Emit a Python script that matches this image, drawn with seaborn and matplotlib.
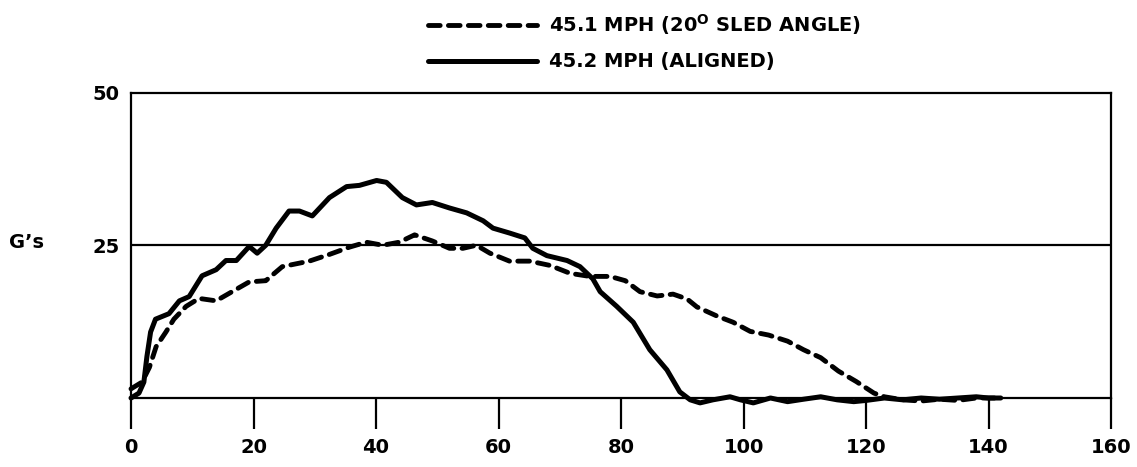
import matplotlib
matplotlib.use("Agg")
import matplotlib.pyplot as plt
import seaborn as sns
import pandas as pd

# Sled test acceleration traces: time (ms) vs. acceleration (G's)
angled_label = "45.1 MPH (20$^{\\mathregular{O}}$ SLED ANGLE)"
aligned_label = "45.2 MPH (ALIGNED)"

angled_time = [0, 1.8, 3, 4.1, 5.7, 7, 9, 11.1, 13.9, 16.5, 19.3, 22, 24.7, 29.1,
               32.4, 35.7, 38.4, 41.1, 43.8, 46.3, 49.2, 52, 54.2, 56.4, 58.6, 61.8,
               65.1, 68.4, 71.7, 74.9, 78.2, 80.7, 83.1, 85.9, 88.5, 90.8, 92.4, 95.7,
               98.3, 101.1, 104.1, 107.2, 109.8, 112.6, 115.5, 118.4, 121.3, 123, 126,
               129, 132, 135, 138, 141]
angled_g = [1.5, 2.6, 5, 8.4, 10.8, 12.9, 15, 16.3, 15.9, 17.4, 19, 19.2, 21.5, 22.4,
            23.5, 24.7, 25.5, 25, 25.5, 26.7, 25.7, 24.5, 24.5, 25, 23.7, 22.4,
            22.4, 21.7, 20.4, 19.9, 19.9, 19.2, 17.4, 16.7, 17, 16.2, 14.9, 13.4,
            12.4, 10.9, 10.3, 9.3, 7.9, 6.6, 4.4, 2.7, 0.8, 0.2, -0.3,
            -0.5, -0.2, -0.4, 0, 0]

aligned_time = [0, 1.3, 2.1, 2.6, 3.2, 4, 6.2, 7.9, 9.5, 11.6, 13.9, 15.5, 17.2, 19.3,
                20.6, 22, 23.7, 25.8, 27.5, 29.6, 32.4, 35.2, 37.3, 40.1, 41.7, 44.3,
                46.6, 49.2, 52, 54.8, 57.5, 59.1, 61.8, 64.3, 65.6, 67.9, 71.2, 73.3,
                75.4, 76.6, 79.3, 82, 84.7, 87.5, 89.6, 91.3, 92.9, 95, 97.8, 99.5,
                101.6, 104.4, 107.2, 109.8, 112.6, 115.3, 118, 120, 123, 126, 129,
                132, 135, 138, 140, 142]
aligned_g = [0, 0.8, 2.6, 6.8, 10.8, 12.9, 13.8, 15.9, 16.6, 20, 21, 22.5, 22.5, 24.8,
             23.7, 25, 27.8, 30.6, 30.6, 29.8, 32.8, 34.6, 34.8, 35.6, 35.3, 32.8,
             31.6, 32, 31.1, 30.3, 29, 27.8, 27, 26.2, 24.5, 23.3, 22.5, 21.5,
             19.5, 17.4, 15, 12.4, 7.9, 4.6, 1, -0.3, -0.8, -0.3, 0.2, -0.3,
             -0.8, 0, -0.6, -0.2, 0.2, -0.3, -0.6, -0.4, 0, -0.3, 0,
             -0.2, 0, 0.2, 0, 0]

x_ticks = [0, 20, 40, 60, 80, 100, 120, 140, 160]
y_ticks = [25, 50]
y_axis_label = "G\u2019s"

sns.set_style("white")
plt.rcParams["font.family"] = ["DejaVu Sans"]
plt.rcParams["font.weight"] = "bold"
plt.rcParams["text.color"] = "black"
plt.rcParams["axes.labelcolor"] = "black"
plt.rcParams["xtick.color"] = "black"
plt.rcParams["ytick.color"] = "black"
plt.rcParams["lines.solid_joinstyle"] = "round"
plt.rcParams["lines.dash_joinstyle"] = "round"
plt.rcParams["lines.dash_capstyle"] = "round"

W, H = 1137, 467
fig = plt.figure(figsize=(W / 100, H / 100), dpi=100)
ax = fig.add_axes([131 / W, 1 - 398 / H, (1111 - 131) / W, (398 - 92.5) / H])

df_angled = pd.DataFrame({"t": angled_time, "g": angled_g})
df_aligned = pd.DataFrame({"t": aligned_time, "g": aligned_g})

sns.lineplot(data=df_angled, x="t", y="g", ax=ax, color="black", lw=3.5,
             linestyle=(0, (2.4, 1.7)), label=angled_label, clip_on=False)
sns.lineplot(data=df_aligned, x="t", y="g", ax=ax, color="black", lw=3.6,
             label=aligned_label, clip_on=False)

ax.axhline(25, color="black", lw=1.6, zorder=1)

ax.set_xlim(0, 160)
ax.set_ylim(0, 50)
ax.set_xticks(x_ticks)
ax.set_xticklabels([str(v) for v in x_ticks])
ax.set_yticks(y_ticks)
ax.set_yticklabels([str(v) for v in y_ticks])
ax.set_xlabel("")
ax.set_ylabel(y_axis_label, rotation=0, fontsize=14, fontweight="bold",
              color="black", ha="center", va="center")
ax.yaxis.set_label_coords(-0.107, 0.508)

for side in ["left", "right", "top", "bottom"]:
    ax.spines[side].set_visible(True)
    ax.spines[side].set_color("black")
    ax.spines[side].set_linewidth(1.6)

ax.tick_params(axis="x", direction="out", length=22, width=1.6, pad=7,
               labelsize=14, colors="black", bottom=True)
ax.tick_params(axis="y", length=0, pad=8, labelsize=14, colors="black")

leg = ax.legend(loc="upper left", bbox_to_anchor=(428 / W, 1 - 12 / H),
                bbox_transform=fig.transFigure, frameon=False, fontsize=14,
                handlelength=5.6, handletextpad=0.6, labelspacing=0.8,
                borderpad=0, borderaxespad=0)
for txt in leg.get_texts():
    txt.set_color("black")

fig.savefig("out.png", dpi=100)
